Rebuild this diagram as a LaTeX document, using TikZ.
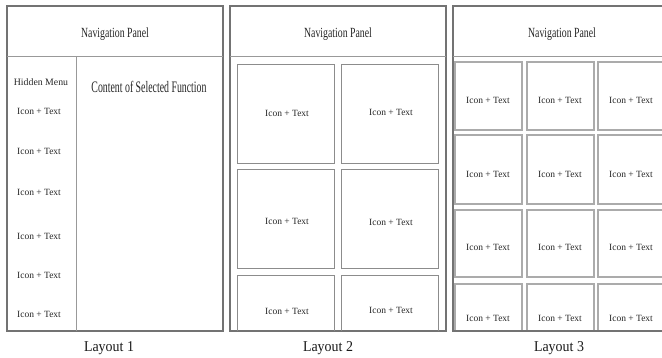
\documentclass[tikz,border=0pt]{standalone}
\usepackage{fontspec}
\setmainfont{Liberation Serif}
\newfontfamily\navfont[FakeStretch=0.70]{Liberation Serif}
\newfontfamily\contfont[FakeStretch=0.615]{Liberation Serif}
\newfontfamily\labfont[FakeStretch=0.93]{Liberation Serif}
\begin{document}
\begin{tikzpicture}[x=1pt,y=-1pt,
  frame/.style={draw=black!55,line width=1.3pt},
  sep/.style={draw=black!40,line width=1pt},
  tileA/.style={draw=black!45,line width=0.9pt},
  tileB/.style={draw=black!33,line width=1.4pt},
  navtxt/.style={inner sep=0pt,text=black!85,font=\navfont\fontsize{14}{16}\selectfont},
  conttxt/.style={inner sep=0pt,text=black!85,font=\contfont\fontsize{16}{18}\selectfont},
  small/.style={inner sep=0pt,text=black!85,font=\fontsize{9.5}{11}\selectfont},
  labtxt/.style={inner sep=0pt,text=black!90,font=\labfont\fontsize{15}{17}\selectfont}]
\useasboundingbox (0,0) rectangle (662,358);
% ---------- Layout 1 ----------
\draw[frame] (7,6) rectangle (223,331);
\draw[sep] (7,57) -- (223,57);
\draw[sep] (76,57) -- (76,331);
\node[navtxt] (n1) at (115,34) {Navigation Panel};
\node[small,font=\fontsize{9.8}{11}\selectfont] (hm) at (41,82) {Hidden Menu};
\node[conttxt] (cs) at (149,87) {Content of Selected Function};
\foreach \i/\y in {1/111,2/151,3/192,4/236,5/275,6/314}
  \node[small] (a\i) at (39,\y) {Icon + Text};
\node[labtxt] (L1) at (109,348) {Layout 1};
% ---------- Layout 2 ----------
\draw[frame] (230,6) rectangle (446,331);
\draw[sep] (230,57) -- (446,57);
\draw[tileA] (237,64) rectangle (334,163);
\draw[tileA] (341,64) rectangle (438,163);
\draw[tileA] (237,169) rectangle (334,268);
\draw[tileA] (341,169) rectangle (438,268);
\draw[tileA] (237,331) -- (237,275) -- (334,275) -- (334,331);
\draw[tileA] (341,331) -- (341,275) -- (438,275) -- (438,331);
\node[navtxt] (n2) at (338,34) {Navigation Panel};
\node[small] (b1) at (287,113) {Icon + Text};
\node[small] (b2) at (391,112) {Icon + Text};
\node[small] (b3) at (287,221) {Icon + Text};
\node[small] (b4) at (391,222) {Icon + Text};
\node[small] (b5) at (287,311) {Icon + Text};
\node[small] (b6) at (391,310) {Icon + Text};
\node[labtxt] (L2) at (328,348) {Layout 2};
% ---------- Layout 3 ----------
\foreach \c/\xa/\xb in {1/455/522,2/527/594,3/598/665}{
  \draw[tileB] (\xa,62) rectangle (\xb,130);
  \draw[tileB] (\xa,135) rectangle (\xb,204);
  \draw[tileB] (\xa,210) rectangle (\xb,277);
  \draw[tileB] (\xa,331) -- (\xa,284) -- (\xb,284) -- (\xb,331);
}
\draw[frame] (453,6) rectangle (671,331);
\draw[sep] (453,57) -- (671,57);
\node[navtxt] (n3) at (562,34) {Navigation Panel};
\foreach \c/\x in {1/488,2/560,3/631}{
  \node[small] (c1\c) at (\x,100) {Icon + Text};
  \node[small] (c2\c) at (\x,174) {Icon + Text};
  \node[small] (c3\c) at (\x,247) {Icon + Text};
  \node[small] (c4\c) at (\x,318) {Icon + Text};
}
\node[labtxt] (L3) at (559,348) {Layout 3};
\end{tikzpicture}
\end{document}
